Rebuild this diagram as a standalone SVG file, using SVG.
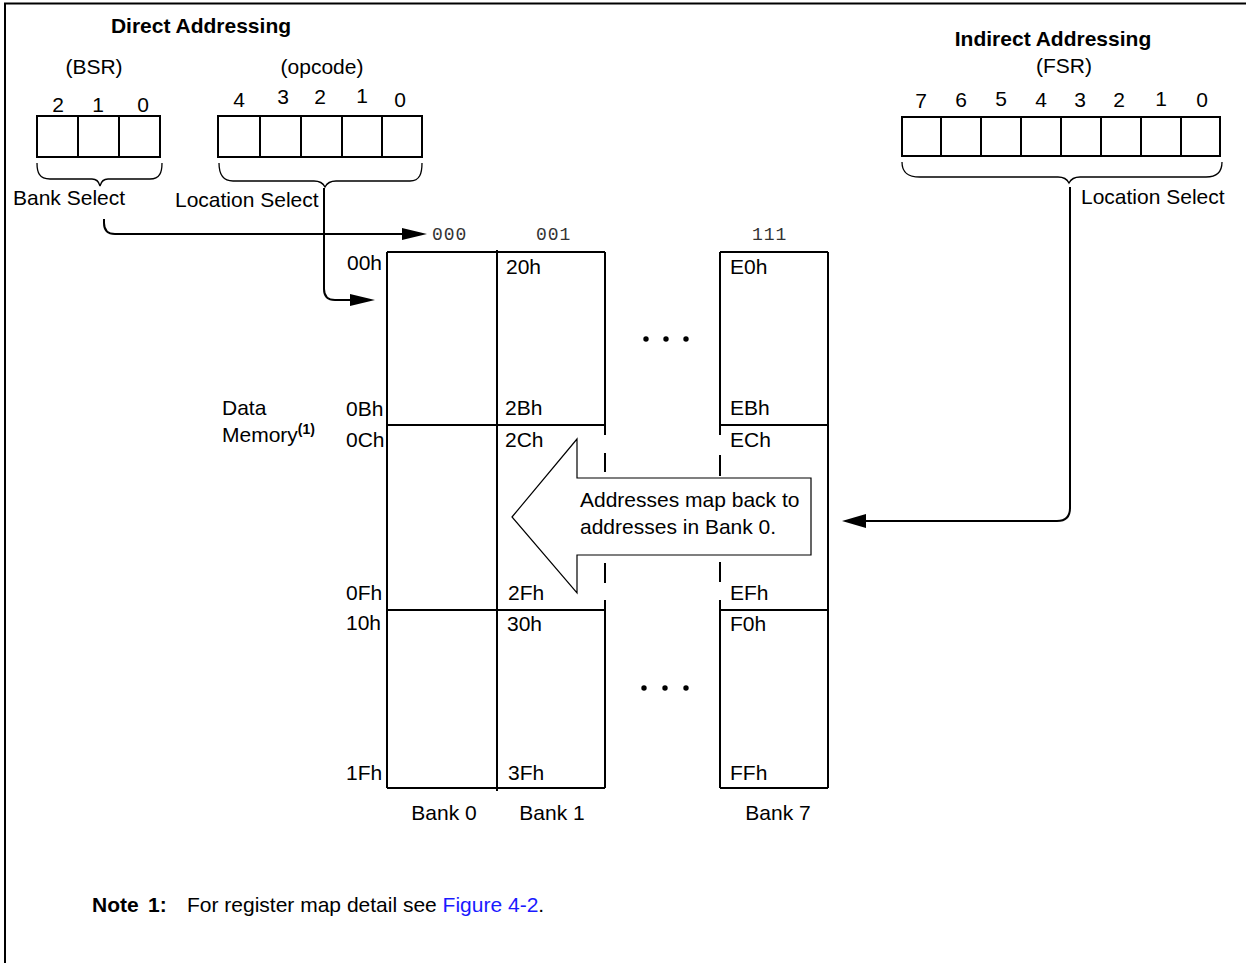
<svg xmlns="http://www.w3.org/2000/svg" width="1246" height="963" viewBox="0 0 1246 963">
<style>
text{font-family:"Liberation Sans",Arial,sans-serif;font-size:21px;fill:#000}
.b{font-weight:bold}
.m{text-anchor:middle}
.mono{font-family:"Liberation Mono","Courier New",monospace;font-size:18px;fill:#333;letter-spacing:1px}
.ln{stroke:#000;stroke-width:2;fill:none}
.thin{stroke:#000;stroke-width:1.3;fill:none}
.cell{stroke:#000;stroke-width:2;fill:#fff}
</style>
<rect width="1246" height="963" fill="#fff"/>
<!-- frame -->
<path d="M5,963 L5,3.5 L1246,3.5" class="ln"/>

<g id="direct-title">
<text x="201" y="33" class="b m">Direct Addressing</text>
</g>

<g id="bsr">
<text x="94" y="74" class="m">(BSR)</text>
<text x="58" y="112" class="m">2</text>
<text x="98" y="112" class="m">1</text>
<text x="143" y="112" class="m">0</text>
<rect x="37" y="116" width="41" height="41" class="cell"/>
<rect x="78" y="116" width="41" height="41" class="cell"/>
<rect x="119" y="116" width="41" height="41" class="cell"/>
<path d="M37,163 C37,172 39,179 50,179 L92,179 C97,179 99,182 100,186 C101,182 103,179 108,179 L150,179 C160,179 162,172 162,163" class="thin"/>
<text x="13" y="205">Bank Select</text>
</g>

<g id="opcode">
<text x="322" y="74" class="m">(opcode)</text>
<text x="239" y="107" class="m">4</text>
<text x="283" y="104" class="m">3</text>
<text x="320" y="104" class="m">2</text>
<text x="362" y="103" class="m">1</text>
<text x="400" y="107" class="m">0</text>
<rect x="218" y="116" width="42" height="41" class="cell"/>
<rect x="260" y="116" width="41" height="41" class="cell"/>
<rect x="301" y="116" width="41" height="41" class="cell"/>
<rect x="342" y="116" width="40" height="41" class="cell"/>
<rect x="382" y="116" width="40" height="41" class="cell"/>
<path d="M219,163 C219,173 222,181 233,181 L314,181 C320,181 323,183 325,187 C327,183 330,181 336,181 L410,181 C420,181 422,173 422,163" class="thin"/>
<text x="175" y="207">Location Select</text>
</g>

<g id="indirect">
<text x="1053" y="46" class="b m">Indirect Addressing</text>
<text x="1064" y="73" class="m">(FSR)</text>
<text x="921" y="108" class="m">7</text>
<text x="961" y="107" class="m">6</text>
<text x="1001" y="106" class="m">5</text>
<text x="1041" y="107" class="m">4</text>
<text x="1080" y="107" class="m">3</text>
<text x="1119" y="107" class="m">2</text>
<text x="1161" y="106" class="m">1</text>
<text x="1202" y="107" class="m">0</text>
<rect x="902" y="117" width="39" height="39" class="cell"/>
<rect x="941" y="117" width="40" height="39" class="cell"/>
<rect x="981" y="117" width="40" height="39" class="cell"/>
<rect x="1021" y="117" width="40" height="39" class="cell"/>
<rect x="1061" y="117" width="40" height="39" class="cell"/>
<rect x="1101" y="117" width="40" height="39" class="cell"/>
<rect x="1141" y="117" width="40" height="39" class="cell"/>
<rect x="1181" y="117" width="39" height="39" class="cell"/>
<path d="M902,162 C902,171 906,177 920,177 L1058,177 C1064,177 1067,179 1069,183 C1071,179 1074,177 1080,177 L1206,177 C1218,177 1222,171 1222,162" class="thin"/>
<text x="1081" y="204">Location Select</text>
</g>

<g id="connectors">
<path d="M104,219 L104,223 Q104,234 115,234 L405,234" class="ln"/>
<polygon points="402,228 427,234 402,240" fill="#000"/>
<path d="M324,188 L324,289 Q324,300 335,300 L352,300" class="ln"/>
<polygon points="350,294 375,300 350,306" fill="#000"/>
<path d="M1070,187 L1070,508 Q1070,521 1057,521 L864,521" class="ln"/>
<polygon points="866,514 842,521 866,528" fill="#000"/>
</g>

<g id="bank-labels">
<text x="432" y="240" class="mono">000</text>
<text x="536" y="240" class="mono">001</text>
<text x="752" y="240" class="mono">111</text>
</g>

<g id="bank0-1">
<path d="M387,252 L605,252 M387,788 L605,788 M387,252 L387,788 M497,250 L497,791 M387,425 L605,425 M387,610 L605,610 M605,252 L605,425 M605,610 L605,788" class="ln"/>
<path d="M605,425 L605,435 M605,453 L605,472 M605,563 L605,583 M605,600 L605,610" class="ln"/>
<text x="347" y="270">00h</text>
<text x="346" y="416">0Bh</text>
<text x="346" y="447">0Ch</text>
<text x="346" y="600">0Fh</text>
<text x="346" y="630">10h</text>
<text x="346" y="780">1Fh</text>
<text x="506" y="274">20h</text>
<text x="505" y="415">2Bh</text>
<text x="505" y="447">2Ch</text>
<text x="508" y="600">2Fh</text>
<text x="507" y="631">30h</text>
<text x="508" y="780">3Fh</text>
<text x="444" y="820" class="m">Bank 0</text>
<text x="552" y="820" class="m">Bank 1</text>
</g>

<g id="bank7">
<path d="M720,252 L828,252 M720,788 L828,788 M828,252 L828,788 M720,425 L828,425 M720,610 L828,610 M720,252 L720,425 M720,610 L720,788" class="ln"/>
<path d="M720,425 L720,435 M720,455 L720,476 M720,562 L720,582 M720,600 L720,610" class="ln"/>
<text x="730" y="274">E0h</text>
<text x="730" y="415">EBh</text>
<text x="730" y="447">ECh</text>
<text x="730" y="600">EFh</text>
<text x="730" y="631">F0h</text>
<text x="730" y="780">FFh</text>
<text x="778" y="820" class="m">Bank 7</text>
</g>

<g id="ellipsis">
<circle cx="646" cy="339" r="2.7"/>
<circle cx="666" cy="339" r="2.7"/>
<circle cx="686" cy="339" r="2.7"/>
<circle cx="644" cy="688" r="2.7"/>
<circle cx="665" cy="688" r="2.7"/>
<circle cx="686" cy="688" r="2.7"/>
</g>

<g id="data-memory">
<text x="222" y="415">Data</text>
<text x="222" y="442">Memory<tspan class="b" font-size="14" dy="-8">(1)</tspan></text>
</g>

<g id="map-arrow">
<polygon points="512,517 577,439 577,478 811,478 811,555 577,555 577,593" fill="#fff" stroke="#000" stroke-width="1.2"/>
<text x="580" y="507">Addresses map back to</text>
<text x="580" y="534">addresses in Bank 0.</text>
</g>

<g id="note">
<text x="92" y="912" class="b">Note</text>
<text x="148" y="912" class="b">1:</text>
<text x="187" y="912">For register map detail see <tspan fill="#1a1aff">Figure 4-2</tspan>.</text>
</g>
</svg>
